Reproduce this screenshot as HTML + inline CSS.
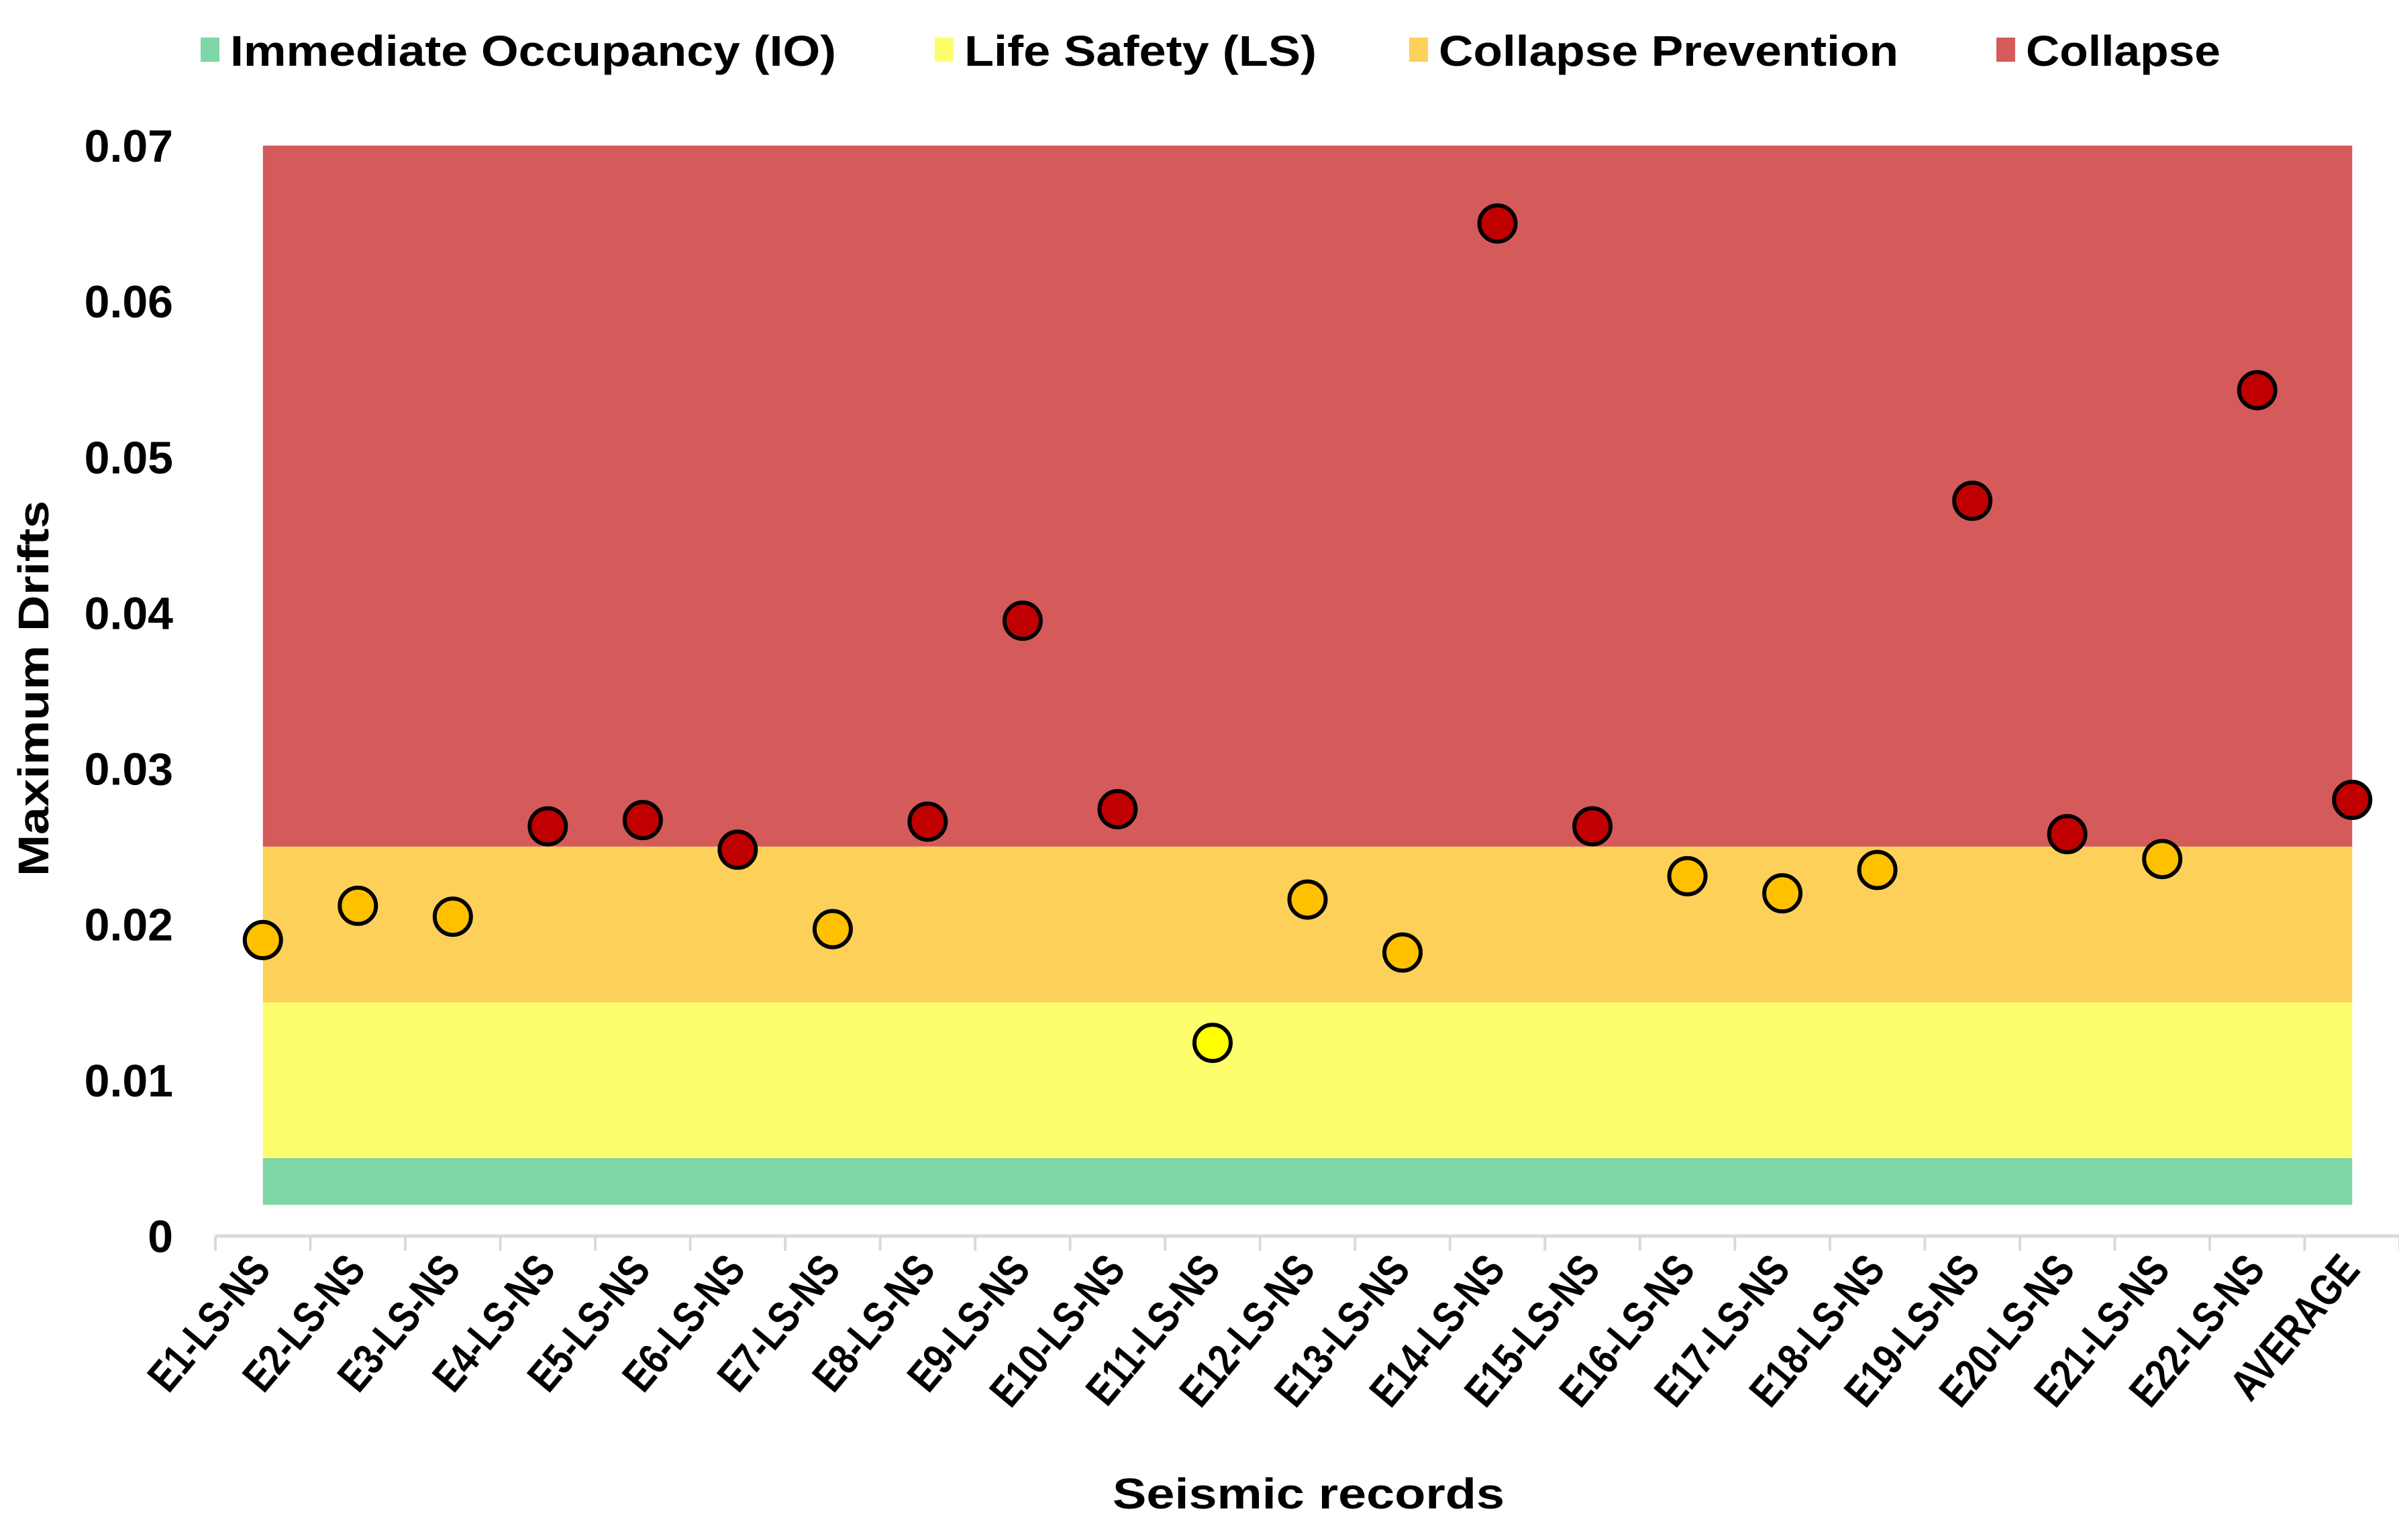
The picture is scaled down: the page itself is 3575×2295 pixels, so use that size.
<!DOCTYPE html>
<html><head><meta charset="utf-8"><style>
html,body{margin:0;padding:0;background:#fff}
svg{display:block}
text{font-family:"Liberation Sans",Arial,sans-serif;font-weight:bold;fill:#000}
</style></head><body>
<svg id="chart" width="3575" height="2295" viewBox="0 0 3575 2295" xmlns="http://www.w3.org/2000/svg">
<g id="legend"></g>
<g id="bands"></g>
<g id="axes"></g>
<g id="points"></g>
<text x="1950" y="2248" text-anchor="middle" font-size="64" textLength="584" lengthAdjust="spacingAndGlyphs">Seismic records</text>
<text transform="translate(72,1026) rotate(-90)" text-anchor="middle" font-size="64" textLength="560" lengthAdjust="spacingAndGlyphs">Maximum Drifts</text>
</svg>
<script>
const categories = ["E1-LS-NS","E2-LS-NS","E3-LS-NS","E4-LS-NS","E5-LS-NS","E6-LS-NS","E7-LS-NS","E8-LS-NS","E9-LS-NS","E10-LS-NS","E11-LS-NS","E12-LS-NS","E13-LS-NS","E14-LS-NS","E15-LS-NS","E16-LS-NS","E17-LS-NS","E18-LS-NS","E19-LS-NS","E20-LS-NS","E21-LS-NS","E22-LS-NS","AVERAGE"];
const drifts = [0.0190,0.0212,0.0205,0.0263,0.0267,0.0248,0.0197,0.0266,0.0395,0.0274,0.0124,0.0216,0.0182,0.0650,0.0263,0.0231,0.0220,0.0235,0.0472,0.0258,0.0242,0.0543,0.0280];
const yTicks = [0,0.01,0.02,0.03,0.04,0.05,0.06,0.07];
const yTickLabels = ["0","0.01","0.02","0.03","0.04","0.05","0.06","0.07"];
const bandNames = ["Immediate Occupancy (IO)","Life Safety (LS)","Collapse Prevention","Collapse"];
const bandLow = [0.002,0.005,0.015,0.025];
const bandHigh = [0.005,0.015,0.025,0.070];
const bandColors = ["#7fd6a6","#fdfd6e","#fdd05a","#d55a5a"];

const NS="http://www.w3.org/2000/svg";
const axisLeft=321, axisRight=3576, axisY=1842, yTop=217, yMax=0.07;
const n=categories.length, step=(axisRight-axisLeft)/n;
function xPos(i){return axisLeft+step*(i+0.5);}
function yPos(v){return axisY-(v/yMax)*(axisY-yTop);}
function mk(tag,attrs,parent){const e=document.createElementNS(NS,tag);for(const k in attrs)e.setAttribute(k,attrs[k]);parent.appendChild(e);return e;}

const legend=document.getElementById('legend');
const legX=[299,1393,2100,2975];
const legW=[903,525,685,290];
bandNames.forEach((nm,i)=>{
  const r=mk('rect',{x:legX[i],y:56,width:28,height:36,fill:bandColors[i]},legend);
  
  
  const t=mk('text',{x:legX[i]+44,y:98,'font-size':64,textLength:legW[i],lengthAdjust:'spacingAndGlyphs'},legend);
  t.textContent=nm;
  
  
});

const bands=document.getElementById('bands');
const bx0=xPos(0), bx1=xPos(n-1);
bandNames.forEach((nm,i)=>{
  const r=mk('rect',{x:bx0,y:yPos(bandHigh[i]),width:bx1-bx0,height:yPos(bandLow[i])-yPos(bandHigh[i]),fill:bandColors[i]},bands);
  
  
});

const axes=document.getElementById('axes');
const al=mk('line',{x1:axisLeft,y1:axisY,x2:axisRight,y2:axisY,stroke:'#d9d9d9','stroke-width':5},axes);


for(let i=0;i<=n;i++){
  const tk=mk('line',{x1:axisLeft+step*i,y1:axisY,x2:axisLeft+step*i,y2:axisY+22,stroke:'#d9d9d9','stroke-width':4},axes);
  
  
}
categories.forEach((c,i)=>{
  const x=xPos(i)+14, y=axisY+52;
  const t=mk('text',{x:0,y:0,'text-anchor':'end','font-size':66,transform:`translate(${x} ${y}) rotate(-50) scale(0.8 1)`},axes);
  t.textContent=c;
  
  
});
yTicks.forEach((v,i)=>{
  const t=mk('text',{x:258,y:yPos(v)+24,'text-anchor':'end','font-size':68},axes);
  t.textContent=yTickLabels[i];
  
  
});

const pts=document.getElementById('points');
drifts.forEach((v,i)=>{
  const col = v>=0.0245 ? '#c00000' : (v>=0.015 ? '#ffc000' : '#ffff00');
  const c=mk('circle',{cx:xPos(i),cy:yPos(v),r:27,fill:col,stroke:'#000','stroke-width':6},pts);
  
  
});
</script>
</body></html>
